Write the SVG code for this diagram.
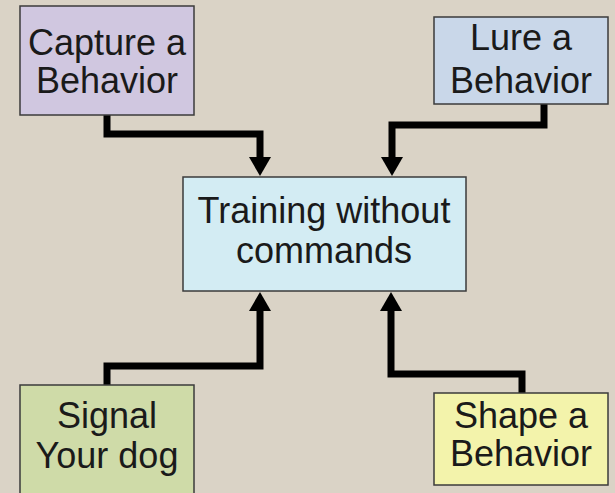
<svg xmlns="http://www.w3.org/2000/svg" width="615" height="493" viewBox="0 0 615 493">
  <defs>
    <style>
      .box { stroke: #3b3b3b; stroke-width: 1.5; }
      .lbl { font-family: "Liberation Sans", Arial, sans-serif; font-size: 36px; fill: #1a1a1a; text-anchor: middle; }
      .wire { fill: none; stroke: #000; stroke-width: 7; stroke-linejoin: miter; }
    </style>
    <!-- arrowhead: base sits at the line end, tip points onward -->
    <marker id="head" markerUnits="userSpaceOnUse" markerWidth="20" markerHeight="22" refX="0" refY="11" orient="auto" viewBox="0 0 20 22">
      <path d="M0,0 L19,11 L0,22 Z" fill="#000"/>
    </marker>
  </defs>
  <rect width="615" height="493" fill="#dad3c6"/>

  <g id="connectors">
    <path class="wire" d="M107,115 V134 H260 V157" marker-end="url(#head)"/>
    <path class="wire" d="M544,104 V125 H392 V157" marker-end="url(#head)"/>
    <path class="wire" d="M107,385 V366 H260 V311" marker-end="url(#head)"/>
    <path class="wire" d="M522,393 V374 H391 V311" marker-end="url(#head)"/>
  </g>

  <g id="center">
    <rect class="box" x="183" y="177" width="283" height="114" fill="#d3ecf3"/>
    <text class="lbl" x="324" y="223">Training without</text>
    <text class="lbl" x="324" y="263">commands</text>
  </g>

  <g id="capture">
    <rect class="box" x="20" y="6" width="174" height="109" fill="#d0c7e0"/>
    <text class="lbl" x="107" y="55">Capture a</text>
    <text class="lbl" x="107" y="93">Behavior</text>
  </g>

  <g id="lure">
    <rect class="box" x="434" y="17" width="174" height="87" fill="#c9d7e9"/>
    <text class="lbl" x="521" y="50">Lure a</text>
    <text class="lbl" x="521" y="93">Behavior</text>
  </g>

  <g id="signal">
    <rect class="box" x="20" y="385" width="174" height="120" fill="#cfdba8"/>
    <text class="lbl" x="107" y="428">Signal</text>
    <text class="lbl" x="107" y="468">Your dog</text>
  </g>

  <g id="shape">
    <rect class="box" x="434" y="393" width="174" height="92" fill="#f3f3ab"/>
    <text class="lbl" x="521" y="428">Shape a</text>
    <text class="lbl" x="521" y="466">Behavior</text>
  </g>
</svg>
